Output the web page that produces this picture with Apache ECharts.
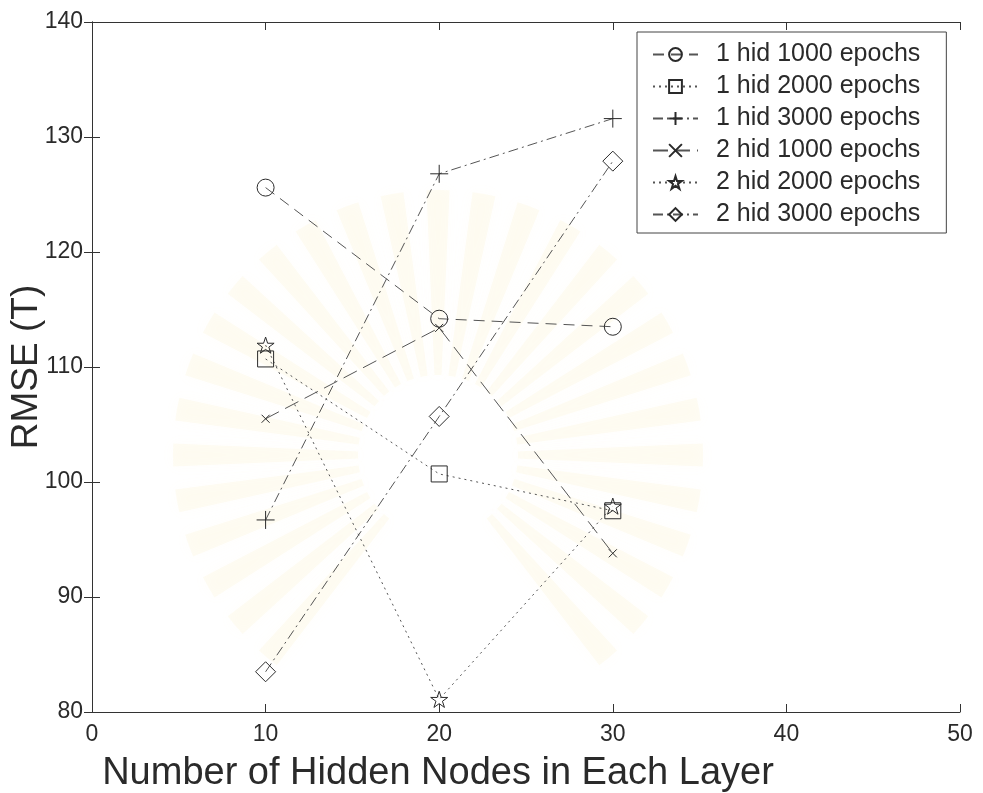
<!DOCTYPE html>
<html>
<head>
<meta charset="utf-8">
<script src="https://cdn.jsdelivr.net/npm/echarts@6/dist/echarts.min.js"></script>
<style>
  html, body { margin: 0; padding: 0; background: #fff; }
  #chart { width: 983px; height: 793px; }
</style>
</head>
<body>
<div id="chart"></div>
<script>
// Hidden nodes per layer (x) and RMSE (T) for each training setup
const hiddenNodes = [10, 20, 30];
const seriesNames = [
  '1 hid 1000 epochs', '1 hid 2000 epochs', '1 hid 3000 epochs',
  '2 hid 1000 epochs', '2 hid 2000 epochs', '2 hid 3000 epochs'
];
const hid1Ep1000 = [125.6, 114.2, 113.5];
const hid1Ep2000 = [110.7, 100.7, 97.5];
const hid1Ep3000 = [96.7, 126.8, 131.6];
const hid2Ep1000 = [105.5, 113.4, 93.8];
const hid2Ep2000 = [111.9, 81.1, 97.9];
const hid2Ep3000 = [83.5, 105.7, 127.9];
const xTicks = [0, 10, 20, 30, 40, 50];
const yTicks = [80, 90, 100, 110, 120, 130, 140];

// Outline marker shapes
const PLUS = 'path://M0,5H10M5,0V10';
const CROSS = 'path://M0,0L10,10M10,0L0,10';
const STAR = 'path://M10,0L12.25,6.91L19.51,6.91L13.63,11.18L15.88,18.09L10,13.82L4.12,18.09L6.37,11.18L0.49,6.91L7.75,6.91Z';

const INK = '#2a2a2a';
const LINE = '#555';
const FONT = '"Liberation Sans", Arial, Helvetica, sans-serif';

const dashed = [11, 7];
const longDash = [15, 7];
const dotted = [2, 4];
const dashDot = [10, 4, 2, 4];

function makeSeries(name, values, symbol, size, dash) {
  return {
    name: name,
    type: 'line',
    data: hiddenNodes.map((x, i) => [x, values[i]]),
    symbol: symbol,
    symbolSize: size,
    symbolKeepAspect: true,
    showAllSymbol: true,
    lineStyle: { color: LINE, width: 1, type: dash },
    itemStyle: { color: 'rgba(255,255,255,0)', borderColor: INK, borderWidth: 1 },
    emphasis: { disabled: true },
    animation: false,
    z: 3
  };
}

const series = [
  makeSeries(seriesNames[0], hid1Ep1000, 'circle', 17, dashed),
  makeSeries(seriesNames[1], hid1Ep2000, 'rect', 16, dotted),
  makeSeries(seriesNames[2], hid1Ep3000, PLUS, 18, dashDot),
  makeSeries(seriesNames[3], hid2Ep1000, CROSS, 8, longDash),
  makeSeries(seriesNames[4], hid2Ep2000, STAR, 17, dotted),
  makeSeries(seriesNames[5], hid2Ep3000, 'diamond', 20, dashDot)
];

// Very faint, soft sunburst emblem printed behind the plot
const rays = [];
for (let a = -50; a <= 230; a += 10) {
  const s = (-a - 2.5) * Math.PI / 180;
  const e = (-a + 2.5) * Math.PI / 180;
  rays.push({
    type: 'sector',
    silent: true,
    z: -1,
    shape: { cx: 438, cy: 455, r0: 80, r: 265, startAngle: s, endAngle: e },
    style: {
      fill: 'rgba(247, 228, 170, 0.13)',
      shadowBlur: 14,
      shadowColor: 'rgba(247, 228, 170, 0.35)'
    }
  });
}

const axisLine = { show: true, lineStyle: { color: '#333', width: 1 } };
const tickIn = { show: true, inside: true, length: 8, lineStyle: { color: '#333' } };

const chart = echarts.init(document.getElementById('chart'), null, { renderer: 'canvas' });
chart.setOption({
  backgroundColor: '#fff',
  animation: false,
  graphic: rays,
  grid: { left: 92, right: 23, top: 22, bottom: 81, containLabel: false, outerBoundsMode: 'none' },
  legend: {
    data: seriesNames,
    orient: 'vertical',
    left: 637,
    top: 32,
    padding: [10, 26, 6, 15],
    itemWidth: 45,
    itemHeight: 16,
    itemGap: 7,
    borderColor: '#444',
    borderWidth: 1,
    backgroundColor: '#fff',
    selectedMode: false,
    textStyle: { fontFamily: FONT, fontSize: 25, color: INK, lineHeight: 25, padding: [0, 0, 0, 13] }
  },
  xAxis: [
    {
      type: 'value', min: xTicks[0], max: xTicks[xTicks.length - 1], interval: 10,
      position: 'bottom',
      axisLine: axisLine, axisTick: tickIn, splitLine: { show: false },
      axisLabel: { fontFamily: FONT, fontSize: 23, color: INK, margin: 11 },
      name: 'Number of Hidden Nodes in Each Layer',
      nameLocation: 'middle', nameGap: 43,
      nameTextStyle: { fontFamily: FONT, fontSize: 38, color: INK, padding: [0, 176, 0, 0] }
    },
    {
      type: 'value', min: xTicks[0], max: xTicks[xTicks.length - 1], interval: 10,
      position: 'top',
      axisLine: axisLine, axisTick: tickIn, axisLabel: { show: false }, splitLine: { show: false }
    }
  ],
  yAxis: [
    {
      type: 'value', min: yTicks[0], max: yTicks[yTicks.length - 1], interval: 10,
      position: 'left',
      axisLine: axisLine, axisTick: tickIn, splitLine: { show: false },
      axisLabel: { fontFamily: FONT, fontSize: 23, color: INK, margin: 9 },
      name: 'RMSE (T)',
      nameLocation: 'middle', nameGap: 47, nameMoveOverlap: false,
      nameTextStyle: { fontFamily: FONT, fontSize: 37, color: INK }
    },
    {
      type: 'value', min: yTicks[0], max: yTicks[yTicks.length - 1], interval: 10,
      position: 'right',
      axisLine: axisLine, axisTick: tickIn, axisLabel: { show: false }, splitLine: { show: false }
    }
  ],
  series: series
});
</script>
</body>
</html>
